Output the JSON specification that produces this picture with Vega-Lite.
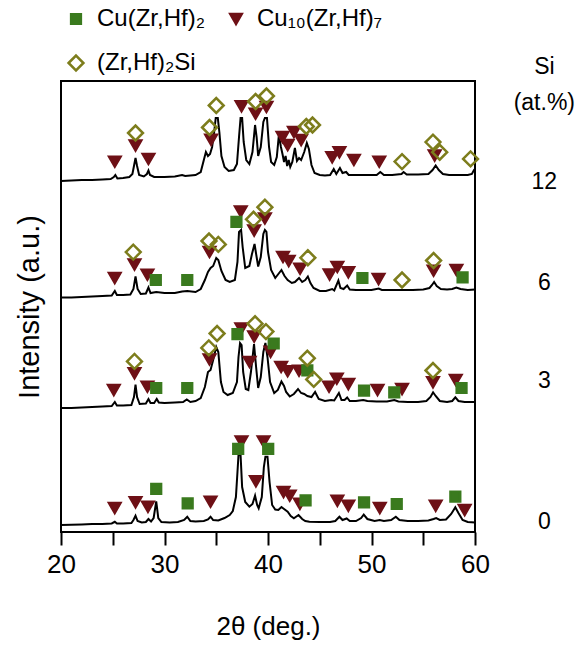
{
  "$schema": "https://vega.github.io/schema/vega-lite/v6.json",
  "width": 414,
  "height": 451,
  "autosize": {"type": "none"},
  "padding": {"left": 61, "top": 81, "right": 100, "bottom": 114},
  "background": "white",
  "config": {
    "view": {"stroke": "black", "strokeWidth": 2},
    "font": "Liberation Sans",
    "legend": {
      "orient": "none",
      "legendX": 3,
      "legendY": -74,
      "columns": 2,
      "padding": 0,
      "rowPadding": 19,
      "columnPadding": 19,
      "labelOffset": 9,
      "labelFont": "Liberation Sans",
      "labelFontSize": 24,
      "labelColor": "black",
      "labelLimit": 400,
      "symbolStrokeWidth": 2.5
    }
  },
  "datasets": {
    "traces": [
      {"s":"12","t":20.0,"i":351},{"s":"12","t":21.0,"i":351.5},{"s":"12","t":22.0,"i":352},{"s":"12","t":23.0,"i":352},{"s":"12","t":24.0,"i":352.5},{"s":"12","t":24.8,"i":353},{"s":"12","t":25.1,"i":355},{"s":"12","t":25.25,"i":357},{"s":"12","t":25.45,"i":353.5},{"s":"12","t":26.0,"i":354},{"s":"12","t":26.6,"i":355},{"s":"12","t":26.9,"i":358},{"s":"12","t":27.05,"i":366},{"s":"12","t":27.2,"i":374},{"s":"12","t":27.35,"i":366},{"s":"12","t":27.55,"i":357},{"s":"12","t":28.0,"i":355.5},{"s":"12","t":28.3,"i":358},{"s":"12","t":28.45,"i":361.5},{"s":"12","t":28.6,"i":357},{"s":"12","t":29.0,"i":355},{"s":"12","t":30.0,"i":355},{"s":"12","t":31.0,"i":355.5},{"s":"12","t":31.7,"i":357},{"s":"12","t":32.0,"i":356},{"s":"12","t":33.0,"i":357},{"s":"12","t":33.5,"i":360},{"s":"12","t":33.8,"i":372},{"s":"12","t":34.0,"i":380},{"s":"12","t":34.2,"i":376},{"s":"12","t":34.4,"i":378},{"s":"12","t":34.6,"i":385},{"s":"12","t":34.8,"i":400},{"s":"12","t":34.95,"i":414},{"s":"12","t":35.15,"i":414},{"s":"12","t":35.3,"i":400},{"s":"12","t":35.5,"i":376},{"s":"12","t":35.8,"i":365},{"s":"12","t":36.2,"i":361},{"s":"12","t":36.7,"i":362},{"s":"12","t":37.0,"i":368},{"s":"12","t":37.2,"i":395},{"s":"12","t":37.35,"i":414},{"s":"12","t":37.5,"i":414},{"s":"12","t":37.65,"i":390},{"s":"12","t":37.9,"i":372},{"s":"12","t":38.2,"i":368},{"s":"12","t":38.5,"i":380},{"s":"12","t":38.75,"i":407},{"s":"12","t":38.9,"i":395},{"s":"12","t":39.05,"i":376},{"s":"12","t":39.3,"i":385},{"s":"12","t":39.55,"i":410},{"s":"12","t":39.7,"i":414},{"s":"12","t":39.9,"i":414},{"s":"12","t":40.1,"i":385},{"s":"12","t":40.3,"i":370},{"s":"12","t":40.6,"i":367},{"s":"12","t":40.85,"i":375},{"s":"12","t":41.05,"i":397},{"s":"12","t":41.25,"i":385},{"s":"12","t":41.4,"i":378},{"s":"12","t":41.55,"i":370},{"s":"12","t":41.7,"i":376},{"s":"12","t":41.85,"i":366},{"s":"12","t":42.0,"i":372},{"s":"12","t":42.15,"i":365},{"s":"12","t":42.35,"i":370},{"s":"12","t":42.6,"i":384},{"s":"12","t":42.8,"i":371},{"s":"12","t":43.0,"i":374},{"s":"12","t":43.2,"i":372},{"s":"12","t":43.5,"i":380},{"s":"12","t":43.75,"i":389},{"s":"12","t":43.95,"i":383},{"s":"12","t":44.2,"i":367},{"s":"12","t":44.5,"i":359},{"s":"12","t":45.0,"i":357},{"s":"12","t":45.5,"i":356.5},{"s":"12","t":46.0,"i":357},{"s":"12","t":46.35,"i":363},{"s":"12","t":46.6,"i":358},{"s":"12","t":46.95,"i":364},{"s":"12","t":47.2,"i":359},{"s":"12","t":47.55,"i":360},{"s":"12","t":47.8,"i":357},{"s":"12","t":48.5,"i":357},{"s":"12","t":49.5,"i":357},{"s":"12","t":50.5,"i":357},{"s":"12","t":50.85,"i":360},{"s":"12","t":51.2,"i":357},{"s":"12","t":52.0,"i":357},{"s":"12","t":52.9,"i":358},{"s":"12","t":53.1,"i":360},{"s":"12","t":53.4,"i":357.5},{"s":"12","t":54.5,"i":357.5},{"s":"12","t":55.5,"i":358},{"s":"12","t":55.9,"i":362},{"s":"12","t":56.2,"i":366.5},{"s":"12","t":56.5,"i":362},{"s":"12","t":56.9,"i":358},{"s":"12","t":57.5,"i":357},{"s":"12","t":58.5,"i":357},{"s":"12","t":59.3,"i":357},{"s":"12","t":59.7,"i":358},{"s":"12","t":59.9,"i":362},{"s":"12","t":60.0,"i":363},

      {"s":"6","t":20.0,"i":234.5},{"s":"6","t":21.0,"i":234.5},{"s":"6","t":22.0,"i":235},{"s":"6","t":23.0,"i":235.5},{"s":"6","t":24.0,"i":236},{"s":"6","t":24.9,"i":236.5},{"s":"6","t":25.2,"i":241},{"s":"6","t":25.4,"i":237},{"s":"6","t":26.0,"i":237},{"s":"6","t":26.7,"i":237.5},{"s":"6","t":27.0,"i":243},{"s":"6","t":27.2,"i":255.5},{"s":"6","t":27.4,"i":243},{"s":"6","t":27.7,"i":238},{"s":"6","t":28.2,"i":238.5},{"s":"6","t":28.45,"i":244.5},{"s":"6","t":28.65,"i":239},{"s":"6","t":29.2,"i":240},{"s":"6","t":30.0,"i":239},{"s":"6","t":31.0,"i":239},{"s":"6","t":31.7,"i":240.5},{"s":"6","t":32.2,"i":241},{"s":"6","t":33.0,"i":240},{"s":"6","t":33.5,"i":243},{"s":"6","t":33.9,"i":252},{"s":"6","t":34.2,"i":260},{"s":"6","t":34.45,"i":264},{"s":"6","t":34.7,"i":266},{"s":"6","t":35.0,"i":274},{"s":"6","t":35.2,"i":272},{"s":"6","t":35.5,"i":261},{"s":"6","t":35.9,"i":252},{"s":"6","t":36.3,"i":250},{"s":"6","t":36.8,"i":252},{"s":"6","t":37.05,"i":270},{"s":"6","t":37.2,"i":300},{"s":"6","t":37.4,"i":302},{"s":"6","t":37.55,"i":285},{"s":"6","t":37.8,"i":264},{"s":"6","t":38.2,"i":266},{"s":"6","t":38.45,"i":278},{"s":"6","t":38.7,"i":288},{"s":"6","t":38.9,"i":275},{"s":"6","t":39.05,"i":265.5},{"s":"6","t":39.3,"i":275},{"s":"6","t":39.55,"i":298},{"s":"6","t":39.7,"i":302},{"s":"6","t":39.85,"i":300},{"s":"6","t":40.0,"i":280},{"s":"6","t":40.3,"i":262},{"s":"6","t":40.7,"i":254},{"s":"6","t":41.0,"i":258},{"s":"6","t":41.3,"i":262},{"s":"6","t":41.6,"i":256},{"s":"6","t":41.9,"i":252},{"s":"6","t":42.3,"i":249},{"s":"6","t":42.6,"i":250},{"s":"6","t":43.0,"i":254},{"s":"6","t":43.3,"i":250},{"s":"6","t":43.6,"i":252},{"s":"6","t":43.85,"i":255.5},{"s":"6","t":44.1,"i":249},{"s":"6","t":44.4,"i":244},{"s":"6","t":45.0,"i":241},{"s":"6","t":45.6,"i":241},{"s":"6","t":46.2,"i":243},{"s":"6","t":46.4,"i":241.5},{"s":"6","t":46.8,"i":251.5},{"s":"6","t":47.0,"i":244},{"s":"6","t":47.3,"i":243},{"s":"6","t":47.65,"i":246.5},{"s":"6","t":47.9,"i":242.5},{"s":"6","t":48.5,"i":242},{"s":"6","t":49.2,"i":242},{"s":"6","t":50.0,"i":242},{"s":"6","t":50.7,"i":243.5},{"s":"6","t":51.0,"i":242},{"s":"6","t":52.0,"i":242},{"s":"6","t":53.0,"i":242},{"s":"6","t":54.0,"i":242},{"s":"6","t":55.0,"i":242.5},{"s":"6","t":55.6,"i":244},{"s":"6","t":55.85,"i":247},{"s":"6","t":56.05,"i":250},{"s":"6","t":56.3,"i":246},{"s":"6","t":56.7,"i":243},{"s":"6","t":57.3,"i":242.5},{"s":"6","t":57.8,"i":243},{"s":"6","t":58.2,"i":244.5},{"s":"6","t":58.6,"i":243},{"s":"6","t":59.3,"i":242},{"s":"6","t":60.0,"i":242.5},

      {"s":"3","t":20.0,"i":124},{"s":"3","t":21.0,"i":124},{"s":"3","t":22.0,"i":124.5},{"s":"3","t":23.0,"i":125},{"s":"3","t":24.0,"i":125.5},{"s":"3","t":24.9,"i":126},{"s":"3","t":25.2,"i":130},{"s":"3","t":25.4,"i":126.5},{"s":"3","t":26.0,"i":126.5},{"s":"3","t":26.8,"i":127},{"s":"3","t":27.05,"i":135},{"s":"3","t":27.2,"i":147.4},{"s":"3","t":27.35,"i":135},{"s":"3","t":27.6,"i":128},{"s":"3","t":28.2,"i":128.5},{"s":"3","t":28.45,"i":133},{"s":"3","t":28.65,"i":129},{"s":"3","t":29.0,"i":129},{"s":"3","t":29.25,"i":133},{"s":"3","t":29.45,"i":129.5},{"s":"3","t":30.0,"i":129},{"s":"3","t":31.0,"i":129.5},{"s":"3","t":31.8,"i":130},{"s":"3","t":32.15,"i":132.5},{"s":"3","t":32.5,"i":130},{"s":"3","t":33.0,"i":131},{"s":"3","t":33.5,"i":134},{"s":"3","t":33.9,"i":145},{"s":"3","t":34.2,"i":160},{"s":"3","t":34.45,"i":162},{"s":"3","t":34.7,"i":172},{"s":"3","t":35.0,"i":185},{"s":"3","t":35.2,"i":180},{"s":"3","t":35.45,"i":150},{"s":"3","t":35.7,"i":140},{"s":"3","t":36.1,"i":137},{"s":"3","t":36.6,"i":139},{"s":"3","t":37.0,"i":150},{"s":"3","t":37.15,"i":175},{"s":"3","t":37.3,"i":189},{"s":"3","t":37.45,"i":187},{"s":"3","t":37.6,"i":160},{"s":"3","t":37.85,"i":143},{"s":"3","t":38.1,"i":142},{"s":"3","t":38.35,"i":160},{"s":"3","t":38.65,"i":188},{"s":"3","t":38.85,"i":165},{"s":"3","t":39.05,"i":144},{"s":"3","t":39.3,"i":155},{"s":"3","t":39.55,"i":180},{"s":"3","t":39.75,"i":189},{"s":"3","t":39.95,"i":175},{"s":"3","t":40.2,"i":150},{"s":"3","t":40.6,"i":139},{"s":"3","t":40.95,"i":142},{"s":"3","t":41.3,"i":150.5},{"s":"3","t":41.55,"i":146},{"s":"3","t":41.75,"i":140},{"s":"3","t":42.1,"i":135.5},{"s":"3","t":42.5,"i":138},{"s":"3","t":42.9,"i":143},{"s":"3","t":43.2,"i":139},{"s":"3","t":43.5,"i":138},{"s":"3","t":43.8,"i":136},{"s":"3","t":44.2,"i":135},{"s":"3","t":44.55,"i":140},{"s":"3","t":44.9,"i":133},{"s":"3","t":45.5,"i":131},{"s":"3","t":46.1,"i":132},{"s":"3","t":46.4,"i":131.5},{"s":"3","t":46.85,"i":139},{"s":"3","t":47.1,"i":132},{"s":"3","t":47.4,"i":132},{"s":"3","t":47.65,"i":134.5},{"s":"3","t":47.9,"i":131},{"s":"3","t":48.5,"i":131},{"s":"3","t":49.2,"i":132},{"s":"3","t":49.6,"i":131},{"s":"3","t":50.5,"i":130.5},{"s":"3","t":51.5,"i":130.5},{"s":"3","t":52.2,"i":132},{"s":"3","t":52.6,"i":130.5},{"s":"3","t":53.5,"i":130},{"s":"3","t":54.5,"i":130},{"s":"3","t":55.3,"i":131},{"s":"3","t":55.7,"i":135},{"s":"3","t":55.95,"i":139.7},{"s":"3","t":56.2,"i":136},{"s":"3","t":56.6,"i":131},{"s":"3","t":57.3,"i":130},{"s":"3","t":57.8,"i":131},{"s":"3","t":58.1,"i":134.7},{"s":"3","t":58.4,"i":131},{"s":"3","t":59.0,"i":130},{"s":"3","t":60.0,"i":130},

      {"s":"0","t":20.0,"i":7},{"s":"0","t":21.0,"i":7.2},{"s":"0","t":22.0,"i":7.5},{"s":"0","t":23.0,"i":8},{"s":"0","t":24.0,"i":8},{"s":"0","t":24.9,"i":8.5},{"s":"0","t":25.2,"i":10.2},{"s":"0","t":25.4,"i":8.5},{"s":"0","t":26.0,"i":8.5},{"s":"0","t":26.8,"i":9},{"s":"0","t":27.0,"i":12},{"s":"0","t":27.2,"i":16.3},{"s":"0","t":27.4,"i":11},{"s":"0","t":27.8,"i":9.5},{"s":"0","t":28.2,"i":10},{"s":"0","t":28.45,"i":13},{"s":"0","t":28.7,"i":10.5},{"s":"0","t":28.95,"i":14},{"s":"0","t":29.2,"i":30.7},{"s":"0","t":29.4,"i":14},{"s":"0","t":29.7,"i":10},{"s":"0","t":30.5,"i":9.5},{"s":"0","t":31.3,"i":10},{"s":"0","t":31.9,"i":12},{"s":"0","t":32.2,"i":15.3},{"s":"0","t":32.5,"i":11},{"s":"0","t":33.0,"i":10.5},{"s":"0","t":33.8,"i":11},{"s":"0","t":34.2,"i":12.5},{"s":"0","t":34.45,"i":15.3},{"s":"0","t":34.7,"i":12},{"s":"0","t":35.2,"i":11.5},{"s":"0","t":35.8,"i":14},{"s":"0","t":36.3,"i":17},{"s":"0","t":36.6,"i":21},{"s":"0","t":36.9,"i":35},{"s":"0","t":37.05,"i":60},{"s":"0","t":37.15,"i":77},{"s":"0","t":37.35,"i":77},{"s":"0","t":37.5,"i":45},{"s":"0","t":37.8,"i":30},{"s":"0","t":38.2,"i":25.3},{"s":"0","t":38.5,"i":28},{"s":"0","t":38.75,"i":36.3},{"s":"0","t":38.95,"i":27},{"s":"0","t":39.1,"i":23.7},{"s":"0","t":39.4,"i":35},{"s":"0","t":39.6,"i":65},{"s":"0","t":39.75,"i":75.3},{"s":"0","t":39.95,"i":75.3},{"s":"0","t":40.15,"i":50},{"s":"0","t":40.4,"i":27},{"s":"0","t":40.7,"i":22.5},{"s":"0","t":41.0,"i":22},{"s":"0","t":41.3,"i":25},{"s":"0","t":41.55,"i":23},{"s":"0","t":41.9,"i":20.3},{"s":"0","t":42.2,"i":16},{"s":"0","t":42.5,"i":13.7},{"s":"0","t":42.95,"i":17},{"s":"0","t":43.3,"i":13},{"s":"0","t":43.6,"i":11},{"s":"0","t":44.0,"i":10.3},{"s":"0","t":45.0,"i":10},{"s":"0","t":46.0,"i":10},{"s":"0","t":46.5,"i":11},{"s":"0","t":46.9,"i":15.3},{"s":"0","t":47.2,"i":12},{"s":"0","t":47.6,"i":13.5},{"s":"0","t":47.9,"i":11},{"s":"0","t":48.5,"i":11},{"s":"0","t":49.0,"i":14},{"s":"0","t":49.25,"i":17.3},{"s":"0","t":49.6,"i":13},{"s":"0","t":50.3,"i":11},{"s":"0","t":50.8,"i":12},{"s":"0","t":51.2,"i":11},{"s":"0","t":51.9,"i":12},{"s":"0","t":52.35,"i":15.3},{"s":"0","t":52.7,"i":12},{"s":"0","t":53.5,"i":11},{"s":"0","t":54.5,"i":11},{"s":"0","t":55.5,"i":11.5},{"s":"0","t":56.0,"i":13},{"s":"0","t":56.25,"i":14},{"s":"0","t":56.6,"i":12},{"s":"0","t":57.2,"i":12.5},{"s":"0","t":57.7,"i":18},{"s":"0","t":58.1,"i":24.7},{"s":"0","t":58.4,"i":19},{"s":"0","t":58.8,"i":12},{"s":"0","t":59.3,"i":10},{"s":"0","t":60.0,"i":9.5}
    ],
    "markers": [
      {"p":"Cu₁₀(Zr,Hf)₇","t":25.2,"i":370.4},{"p":"Cu₁₀(Zr,Hf)₇","t":27.2,"i":386.5},{"p":"Cu₁₀(Zr,Hf)₇","t":28.45,"i":373.1},{"p":"Cu₁₀(Zr,Hf)₇","t":34.5,"i":392.2},{"p":"Cu₁₀(Zr,Hf)₇","t":37.44,"i":425.8},{"p":"Cu₁₀(Zr,Hf)₇","t":38.8,"i":418.4},{"p":"Cu₁₀(Zr,Hf)₇","t":39.85,"i":425.1},{"p":"Cu₁₀(Zr,Hf)₇","t":41.4,"i":395},{"p":"Cu₁₀(Zr,Hf)₇","t":41.9,"i":387},{"p":"Cu₁₀(Zr,Hf)₇","t":42.5,"i":400},{"p":"Cu₁₀(Zr,Hf)₇","t":43.2,"i":392},{"p":"Cu₁₀(Zr,Hf)₇","t":46.2,"i":374.8},{"p":"Cu₁₀(Zr,Hf)₇","t":46.9,"i":379.8},{"p":"Cu₁₀(Zr,Hf)₇","t":48.3,"i":372.1},{"p":"Cu₁₀(Zr,Hf)₇","t":50.75,"i":370.4},{"p":"Cu₁₀(Zr,Hf)₇","t":56.1,"i":376.5},
      {"p":"(Zr,Hf)₂Si","t":27.2,"i":399},{"p":"(Zr,Hf)₂Si","t":34.35,"i":404.5},{"p":"(Zr,Hf)₂Si","t":35.0,"i":426.5},{"p":"(Zr,Hf)₂Si","t":38.8,"i":430.5},{"p":"(Zr,Hf)₂Si","t":39.85,"i":436},{"p":"(Zr,Hf)₂Si","t":43.7,"i":405.5},{"p":"(Zr,Hf)₂Si","t":44.3,"i":407},{"p":"(Zr,Hf)₂Si","t":52.95,"i":370.4},{"p":"(Zr,Hf)₂Si","t":55.94,"i":389.9},{"p":"(Zr,Hf)₂Si","t":56.59,"i":379.8},{"p":"(Zr,Hf)₂Si","t":59.57,"i":373.1},

      {"p":"Cu₁₀(Zr,Hf)₇","t":25.19,"i":254},{"p":"Cu₁₀(Zr,Hf)₇","t":27.1,"i":267.5},{"p":"Cu₁₀(Zr,Hf)₇","t":28.35,"i":257.4},{"p":"Cu₁₀(Zr,Hf)₇","t":34.35,"i":280.1},{"p":"Cu₁₀(Zr,Hf)₇","t":37.37,"i":320.6},{"p":"Cu₁₀(Zr,Hf)₇","t":38.66,"i":301.5},{"p":"Cu₁₀(Zr,Hf)₇","t":39.7,"i":313.6},{"p":"Cu₁₀(Zr,Hf)₇","t":41.45,"i":275.1},{"p":"Cu₁₀(Zr,Hf)₇","t":42.0,"i":271},{"p":"Cu₁₀(Zr,Hf)₇","t":43.1,"i":263.4},{"p":"Cu₁₀(Zr,Hf)₇","t":45.95,"i":257.5},{"p":"Cu₁₀(Zr,Hf)₇","t":46.7,"i":265.1},{"p":"Cu₁₀(Zr,Hf)₇","t":47.76,"i":259.8},{"p":"Cu₁₀(Zr,Hf)₇","t":50.68,"i":253},{"p":"Cu₁₀(Zr,Hf)₇","t":56.0,"i":261.4},{"p":"Cu₁₀(Zr,Hf)₇","t":58.2,"i":262.1},
      {"p":"Cu(Zr,Hf)₂","t":29.16,"i":252},{"p":"Cu(Zr,Hf)₂","t":32.2,"i":252},{"p":"Cu(Zr,Hf)₂","t":36.95,"i":310.2},{"p":"Cu(Zr,Hf)₂","t":49.12,"i":254},{"p":"Cu(Zr,Hf)₂","t":58.8,"i":254.7},
      {"p":"(Zr,Hf)₂Si","t":26.98,"i":279.9},{"p":"(Zr,Hf)₂Si","t":34.3,"i":291},{"p":"(Zr,Hf)₂Si","t":35.2,"i":287.6},{"p":"(Zr,Hf)₂Si","t":38.6,"i":312.7},{"p":"(Zr,Hf)₂Si","t":39.7,"i":324.8},{"p":"(Zr,Hf)₂Si","t":43.85,"i":274.2},{"p":"(Zr,Hf)₂Si","t":52.95,"i":252},{"p":"(Zr,Hf)₂Si","t":56.0,"i":271.5},

      {"p":"Cu₁₀(Zr,Hf)₇","t":25.1,"i":142},{"p":"Cu₁₀(Zr,Hf)₇","t":27.1,"i":158.8},{"p":"Cu₁₀(Zr,Hf)₇","t":28.35,"i":145.4},{"p":"Cu₁₀(Zr,Hf)₇","t":34.35,"i":172.6},{"p":"Cu₁₀(Zr,Hf)₇","t":37.42,"i":203.6},{"p":"Cu₁₀(Zr,Hf)₇","t":38.22,"i":170.1},{"p":"Cu₁₀(Zr,Hf)₇","t":38.66,"i":195.5},{"p":"Cu₁₀(Zr,Hf)₇","t":40.25,"i":180.2},{"p":"Cu₁₀(Zr,Hf)₇","t":41.27,"i":165.1},{"p":"Cu₁₀(Zr,Hf)₇","t":41.9,"i":160.9},{"p":"Cu₁₀(Zr,Hf)₇","t":43.0,"i":161.4},{"p":"Cu₁₀(Zr,Hf)₇","t":45.9,"i":145.4},{"p":"Cu₁₀(Zr,Hf)₇","t":46.65,"i":153.4},{"p":"Cu₁₀(Zr,Hf)₇","t":47.76,"i":148},{"p":"Cu₁₀(Zr,Hf)₇","t":50.58,"i":142},{"p":"Cu₁₀(Zr,Hf)₇","t":52.95,"i":143},{"p":"Cu₁₀(Zr,Hf)₇","t":55.94,"i":149.8},{"p":"Cu₁₀(Zr,Hf)₇","t":58.14,"i":152.1},
      {"p":"Cu(Zr,Hf)₂","t":29.2,"i":144},{"p":"Cu(Zr,Hf)₂","t":32.2,"i":144},{"p":"Cu(Zr,Hf)₂","t":37.05,"i":197.8},{"p":"Cu(Zr,Hf)₂","t":40.55,"i":188.5},{"p":"Cu(Zr,Hf)₂","t":43.8,"i":161.6},{"p":"Cu(Zr,Hf)₂","t":49.28,"i":141.4},{"p":"Cu(Zr,Hf)₂","t":52.2,"i":139.7},{"p":"Cu(Zr,Hf)₂","t":58.7,"i":144},
      {"p":"(Zr,Hf)₂Si","t":27.1,"i":170.6},{"p":"(Zr,Hf)₂Si","t":34.28,"i":184.1},{"p":"(Zr,Hf)₂Si","t":35.08,"i":198.5},{"p":"(Zr,Hf)₂Si","t":38.75,"i":208.3},{"p":"(Zr,Hf)₂Si","t":39.8,"i":200.4},{"p":"(Zr,Hf)₂Si","t":43.8,"i":173.8},{"p":"(Zr,Hf)₂Si","t":44.42,"i":152.6},{"p":"(Zr,Hf)₂Si","t":55.94,"i":161.5},

      {"p":"Cu₁₀(Zr,Hf)₇","t":25.19,"i":24},{"p":"Cu₁₀(Zr,Hf)₇","t":27.2,"i":29.7},{"p":"Cu₁₀(Zr,Hf)₇","t":28.4,"i":25.3},{"p":"Cu₁₀(Zr,Hf)₇","t":34.45,"i":30.4},{"p":"Cu₁₀(Zr,Hf)₇","t":37.44,"i":90.6},{"p":"Cu₁₀(Zr,Hf)₇","t":38.83,"i":50.8},{"p":"Cu₁₀(Zr,Hf)₇","t":39.57,"i":90.6},{"p":"Cu₁₀(Zr,Hf)₇","t":41.5,"i":40},{"p":"Cu₁₀(Zr,Hf)₇","t":42.1,"i":36.4},{"p":"Cu₁₀(Zr,Hf)₇","t":43.08,"i":28.3},{"p":"Cu₁₀(Zr,Hf)₇","t":46.7,"i":31.2},{"p":"Cu₁₀(Zr,Hf)₇","t":47.76,"i":26.3},{"p":"Cu₁₀(Zr,Hf)₇","t":50.8,"i":24},{"p":"Cu₁₀(Zr,Hf)₇","t":56.2,"i":26.3},{"p":"Cu₁₀(Zr,Hf)₇","t":59.0,"i":22},
      {"p":"Cu(Zr,Hf)₂","t":29.2,"i":43.1},{"p":"Cu(Zr,Hf)₂","t":32.24,"i":28.7},{"p":"Cu(Zr,Hf)₂","t":37.12,"i":83.2},{"p":"Cu(Zr,Hf)₂","t":40.02,"i":83.2},{"p":"Cu(Zr,Hf)₂","t":43.63,"i":31.7},{"p":"Cu(Zr,Hf)₂","t":49.28,"i":29.7},{"p":"Cu(Zr,Hf)₂","t":52.44,"i":28},{"p":"Cu(Zr,Hf)₂","t":58.1,"i":35.4}
    ],
    "labels": [
      {"label":"Si","t":66.7,"i":465},
      {"label":"(at.%)","t":66.7,"i":429},
      {"label":"12","t":66.7,"i":350},
      {"label":"6","t":66.7,"i":249},
      {"label":"3","t":66.7,"i":151},
      {"label":"0","t":66.7,"i":10}
    ]
  },
  "encoding": {
    "x": {
      "field": "t", "type": "quantitative",
      "scale": {"domain": [20, 60], "nice": false, "zero": false},
      "axis": {
        "values": [20, 25, 30, 35, 40, 45, 50, 55, 60],
        "labelExpr": "datum.value % 10 === 0 ? datum.label : ''",
        "title": "2θ (deg.)",
        "grid": false, "domain": false,
        "tickSize": 13, "tickWidth": 2, "tickColor": "black",
        "labelFont": "Liberation Sans", "labelFontSize": 26, "labelColor": "black",
        "labelPadding": 6, "labelFlush": false, "labelOverlap": false,
        "titleFont": "Liberation Sans", "titleFontSize": 26, "titleFontWeight": "normal",
        "titleColor": "black", "titlePadding": 36
      }
    },
    "y": {
      "field": "i", "type": "quantitative",
      "scale": {"domain": [0, 451], "nice": false, "zero": false},
      "axis": {
        "title": "Intensity (a.u.)",
        "labels": false, "ticks": false, "domain": false, "grid": false,
        "titleFont": "Liberation Sans", "titleFontSize": 29, "titleFontWeight": "normal",
        "titleColor": "black", "titlePadding": 17
      }
    }
  },
  "layer": [
    {
      "data": {"name": "traces"},
      "mark": {"type": "line", "color": "black", "strokeWidth": 2},
      "encoding": {"detail": {"field": "s", "type": "nominal"}}
    },
    {
      "data": {"name": "markers"},
      "mark": {"type": "point", "strokeWidth": 2.5, "opacity": 1},
      "encoding": {
        "shape": {
          "field": "p", "type": "nominal",
          "scale": {"domain": ["Cu(Zr,Hf)₂", "(Zr,Hf)₂Si", "Cu₁₀(Zr,Hf)₇"], "range": ["square", "diamond", "triangle-down"]},
          "legend": {"title": null}
        },
        "fill": {
          "field": "p", "type": "nominal",
          "scale": {"domain": ["Cu(Zr,Hf)₂", "(Zr,Hf)₂Si", "Cu₁₀(Zr,Hf)₇"], "range": ["#3a7a1e", "transparent", "#6e1016"]},
          "legend": {"title": null}
        },
        "stroke": {
          "field": "p", "type": "nominal",
          "scale": {"domain": ["Cu(Zr,Hf)₂", "(Zr,Hf)₂Si", "Cu₁₀(Zr,Hf)₇"], "range": ["#3a7a1e", "#7d7d1c", "#6e1016"]},
          "legend": {"title": null}
        },
        "size": {
          "field": "p", "type": "nominal",
          "scale": {"type": "ordinal", "domain": ["Cu(Zr,Hf)₂", "(Zr,Hf)₂Si", "Cu₁₀(Zr,Hf)₇"], "range": [95, 220, 130]},
          "legend": {"title": null}
        }
      }
    },
    {
      "data": {"name": "labels"},
      "mark": {"type": "text", "font": "Liberation Sans", "fontSize": 23, "align": "center", "baseline": "middle", "color": "black"},
      "encoding": {"text": {"field": "label", "type": "nominal"}}
    }
  ]
}
